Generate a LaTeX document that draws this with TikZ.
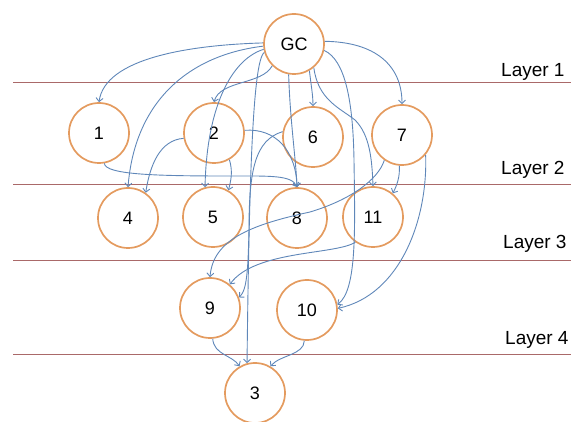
\documentclass[tikz,border=0pt]{standalone}
\usepackage{fontspec}
\setmainfont{Liberation Sans}
\usetikzlibrary{arrows.meta}
\definecolor{nodeor}{RGB}{228,155,95}
\definecolor{edgeb}{RGB}{95,135,185}
\definecolor{layerc}{RGB}{170,105,105}
\tikzset{
  gnode/.style={circle, draw=nodeor, line width=1.7pt, minimum size=60pt, inner sep=0pt, font=\fontsize{18}{20}\selectfont},
  edge/.style={draw=edgeb, line width=0.9pt, -{Straight Barb[length=3.5pt,width=7pt]}},
  layerline/.style={draw=layerc, line width=0.8pt},
  layerlab/.style={anchor=base west, inner sep=0pt, font=\fontsize{19}{21}\selectfont}
}
\begin{document}
\begin{tikzpicture}[x=1pt,y=-1pt]
\useasboundingbox (0,0) rectangle (571,422);
% layer lines
\draw[layerline] (13,82) -- (571,82);
\draw[layerline] (13,184) -- (571,184);
\draw[layerline] (13,260) -- (571,260);
\draw[layerline] (13,354) -- (571,354);
\node[layerlab] (L1) at (501,77) {Layer 1};
\node[layerlab] (L2) at (501,175) {Layer 2};
\node[layerlab] (L3) at (503,249) {Layer 3};
\node[layerlab] (L4) at (505,345) {Layer 4};
% nodes
\node[gnode] (GC) at (294,44) {GC};
\node[gnode] (n1) at (99,133) {1};
\node[gnode] (n2) at (214,133) {2};
\node[gnode] (n6) at (313,137) {6};
\node[gnode] (n7) at (402,135) {7};
\node[gnode] (n4) at (128,218) {4};
\node[gnode] (n5) at (213,217) {5};
\node[gnode] (n8) at (297,218) {8};
\node[gnode] (n11) at (373,217) {11};
\node[gnode] (n9) at (210,308) {9};
\node[gnode] (n10) at (307,310) {10};
\node[gnode] (n3) at (255,393) {3};
% edges from GC
\draw[edge] (GC.178) .. controls (190,45) and (105,58) .. (n1.north);
\draw[edge] (GC.184) .. controls (190,55) and (135,100) .. (n4.north);
\draw[edge] (GC.225) .. controls (262,85) and (220,80) .. (n2.north);
\draw[edge] (GC.190) .. controls (235,58) and (207,100) .. (n5.105);
\draw[edge] (GC.196) .. controls (252,60) and (249,200) .. (n3.105);
\draw[edge] (GC.260) .. controls (290,120) and (296,160) .. (n8.north);
\draw[edge] (GC.-60) .. controls (311,85) and (313,95) .. (n6.north);
\draw[edge] (GC.-50) .. controls (318,100) and (340,108) .. (355,120) .. controls (370,135) and (372,160) .. (n11.north);
\draw[edge] (GC.5) .. controls (375,42) and (402,65) .. (n7.north);
\draw[edge] (GC.-12) .. controls (345,60) and (353,100) .. (354,160) .. controls (355,230) and (357,290) .. (n10.10);
% other edges
\draw[edge] (n1.-80) .. controls (105,175) and (160,176) .. (230,176) .. controls (270,176) and (292,175) .. (n8.north);
\draw[edge] (n2.190) .. controls (160,140) and (150,165) .. (n4.55);
\draw[edge] (n2.-60) .. controls (233,172) and (231,180) .. (n5.60);
\draw[edge] (n2.5) .. controls (275,128) and (296,150) .. (n8.north);
\draw[edge] (n6.170) .. controls (255,140) and (249,170) .. (249,230) .. controls (248,270) and (247,290) .. (n9.20);
\draw[edge] (n7.235) .. controls (378,180) and (350,200) .. (310,212) .. controls (250,225) and (213,240) .. (n9.north);
\draw[edge] (n7.-95) .. controls (400,177) and (397,185) .. (n11.50);
\draw[edge] (n7.-40) .. controls (428,220) and (400,295) .. (n10.3);
\draw[edge] (n11.235) .. controls (335,255) and (255,250) .. (n9.50);
\draw[edge] (n9.-85) .. controls (214,355) and (232,355) .. (n3.120);
\draw[edge] (n10.-95) .. controls (304,355) and (280,355) .. (n3.60);
\end{tikzpicture}
\end{document}
